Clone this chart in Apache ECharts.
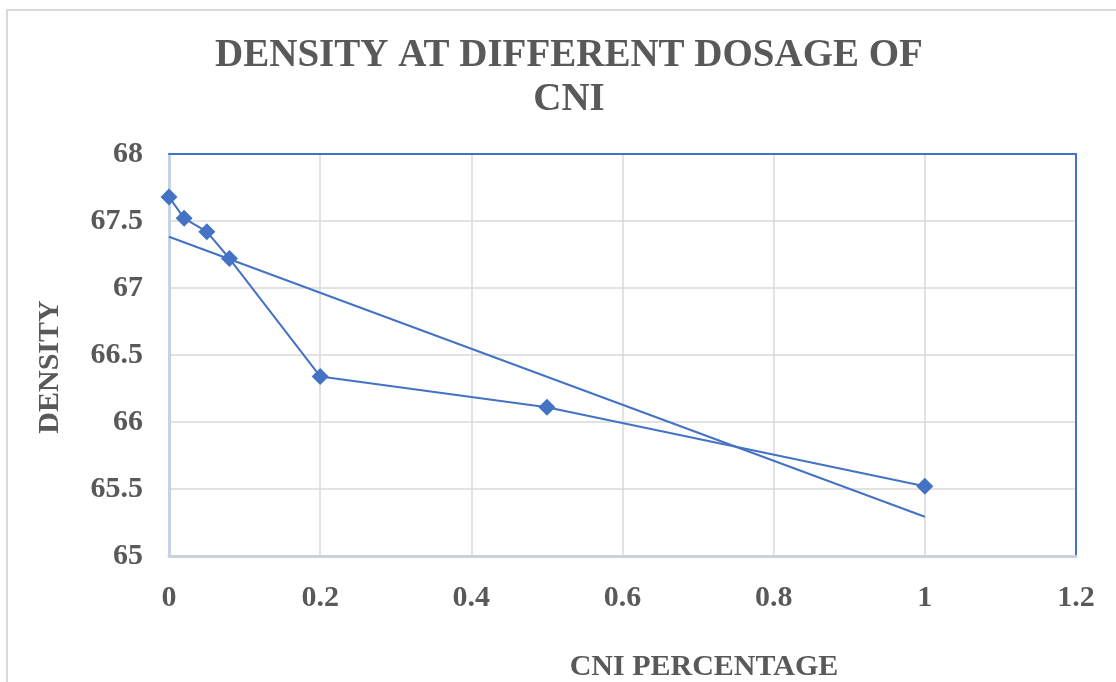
<!DOCTYPE html>
<html>
<head>
<meta charset="utf-8">
<title>Density at different dosage of CNI</title>
<script src="https://cdn.jsdelivr.net/npm/echarts@6/dist/echarts.min.js"></script>
<style>
  html, body { margin: 0; padding: 0; background: #ffffff; }
  #chart { width: 1116px; height: 682px; }
</style>
</head>
<body>
<div id="chart"></div>
<script>
// CNI dosage (%) and measured density
const cniPercent = [0, 0.02, 0.05, 0.08, 0.2, 0.5, 1];
const density = [67.68, 67.52, 67.42, 67.22, 66.34, 66.11, 65.52];

const titleText = 'DENSITY AT DIFFERENT DOSAGE OF\nCNI';
const xAxisTitle = 'CNI PERCENTAGE';
const yAxisTitle = 'DENSITY';

// Least-squares linear trendline over the measured points
function linearFit(xs, ys) {
  const n = xs.length;
  const mx = xs.reduce((a, b) => a + b, 0) / n;
  const my = ys.reduce((a, b) => a + b, 0) / n;
  let sxy = 0, sxx = 0;
  for (let i = 0; i < n; i++) {
    sxy += (xs[i] - mx) * (ys[i] - my);
    sxx += (xs[i] - mx) * (xs[i] - mx);
  }
  const slope = sxy / sxx;
  return { slope, intercept: my - slope * mx };
}
const fit = linearFit(cniPercent, density);
const xMinData = Math.min(...cniPercent);
const xMaxData = Math.max(...cniPercent);
const trendPoints = [
  [xMinData, fit.intercept + fit.slope * xMinData],
  [xMaxData, fit.intercept + fit.slope * xMaxData]
];

const serif = '"Liberation Serif", "Times New Roman", serif';
const textGray = '#595959';
const blue = '#4472C4';

const labelStyle = {
  fontFamily: serif,
  fontWeight: 'bold',
  fontSize: 30,
  color: textGray
};

const chart = echarts.init(document.getElementById('chart'));
chart.setOption({
  animation: false,
  backgroundColor: '#ffffff',
  title: {
    text: titleText,
    left: 564,
    top: 29,
    textAlign: 'center',
    textStyle: {
      fontFamily: serif,
      fontWeight: 'bold',
      fontSize: 39,
      lineHeight: 44,
      color: textGray
    }
  },
  grid: {
    left: 169,
    right: 40,
    top: 154,
    bottom: 126
  },
  xAxis: [
    {
      type: 'value',
      position: 'bottom',
      min: 0,
      max: 1.2,
      interval: 0.2,
      axisLine: { show: true, onZero: false, lineStyle: { color: '#cbd1dc', width: 3 } },
      axisTick: { show: false },
      splitLine: { show: true, lineStyle: { color: '#d9d9d9', width: 1.5 } },
      axisLabel: Object.assign({ margin: 27 }, labelStyle)
    },
    {
      // blue frame line along the top of the plot
      type: 'value',
      position: 'top',
      min: 0,
      max: 1.2,
      interval: 0.2,
      axisLine: { show: true, onZero: false, lineStyle: { color: blue, width: 2 } },
      axisTick: { show: false },
      axisLabel: { show: false },
      splitLine: { show: false }
    }
  ],
  yAxis: [
    {
      type: 'value',
      position: 'left',
      min: 65,
      max: 68,
      interval: 0.5,
      axisLine: { show: true, onZero: false, lineStyle: { color: '#c6d2e8', width: 3 } },
      axisTick: { show: false },
      splitLine: { show: true, lineStyle: { color: '#d9d9d9', width: 1.5 } },
      axisLabel: Object.assign({ margin: 26 }, labelStyle)
    },
    {
      // blue frame line along the right of the plot
      type: 'value',
      position: 'right',
      min: 65,
      max: 68,
      interval: 0.5,
      axisLine: { show: true, onZero: false, lineStyle: { color: blue, width: 2 } },
      axisTick: { show: false },
      axisLabel: { show: false },
      splitLine: { show: false }
    }
  ],
  graphic: [
    {
      type: 'rect',
      silent: true,
      z: -10,
      shape: { x: 7, y: 10, width: 1300, height: 900 },
      style: { fill: 'none', stroke: '#d9d9d9', lineWidth: 2 }
    },
    {
      type: 'text',
      x: 50,
      y: 367,
      rotation: Math.PI / 2,
      style: {
        text: yAxisTitle,
        font: 'bold 30px ' + serif,
        fill: textGray,
        align: 'center',
        verticalAlign: 'middle'
      }
    },
    {
      type: 'text',
      x: 704,
      y: 667,
      style: {
        text: xAxisTitle,
        font: 'bold 30px ' + serif,
        fill: textGray,
        align: 'center',
        verticalAlign: 'middle'
      }
    }
  ],
  series: [
    {
      name: 'Density',
      type: 'line',
      xAxisIndex: 0,
      yAxisIndex: 0,
      data: cniPercent.map((x, i) => [x, density[i]]),
      symbol: 'diamond',
      symbolSize: 17,
      clip: false,
      lineStyle: { color: blue, width: 2 },
      itemStyle: { color: blue },
      z: 3
    },
    {
      name: 'Linear (Density)',
      type: 'line',
      xAxisIndex: 0,
      yAxisIndex: 0,
      data: trendPoints,
      symbol: 'none',
      clip: false,
      lineStyle: { color: blue, width: 2 },
      z: 2
    }
  ]
});
</script>
</body>
</html>
